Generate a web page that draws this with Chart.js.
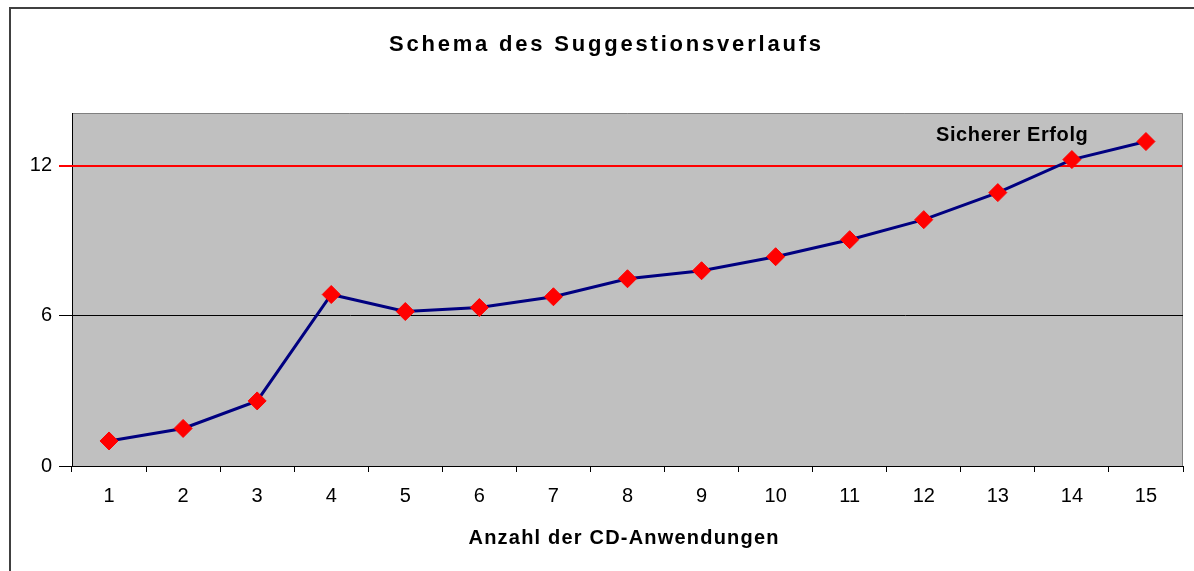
<!DOCTYPE html>
<html>
<head>
<meta charset="utf-8">
<script src="https://cdn.jsdelivr.net/npm/chart.js@4"></script>
<style>
    html, body { margin: 0; padding: 0; background: #fff; }
    #wrap { width: 1194px; height: 571px; position: relative; }
</style>
</head>
<body>
<div id="wrap"><canvas id="suggestionChart"></canvas></div>
<script>
// Chart data
const categories = ['1', '2', '3', '4', '5', '6', '7', '8', '9', '10', '11', '12', '13', '14', '15'];
const suggestionValues = [1.0, 1.5, 2.6, 6.85, 6.17, 6.33, 6.76, 7.48, 7.8, 8.36, 9.04, 9.84, 10.92, 12.24, 12.96];
const yTicks = [0, 6, 12];
const successLevel = 12;
const chartTitle = 'Schema des Suggestionsverlaufs';
const xTitle = 'Anzahl der CD-Anwendungen';
const successLabel = 'Sicherer Erfolg';

const FONT = '"Liberation Sans", Arial, sans-serif';

// helper: spaced text (old Excel rendering is wider)
function drawText(ctx, text, x, y, font, spacing) {
    ctx.save();
    ctx.font = font;
    ctx.letterSpacing = spacing + 'px';
    ctx.fillStyle = '#000';
    ctx.textAlign = 'center';
    ctx.textBaseline = 'middle';
    ctx.fillText(text, x + spacing / 2, y);
    ctx.restore();
}

// Gray plot area + frame around the whole chart
const backgroundPlugin = {
    id: 'plotBackground',
    beforeDraw(chart) {
        const { ctx, chartArea: a } = chart;
        ctx.save();
        ctx.fillStyle = '#ffffff';
        ctx.fillRect(0, 0, chart.width, chart.height);
        // outer frame
        ctx.strokeStyle = '#404040';
        ctx.lineWidth = 2;
        ctx.strokeRect(10, 8, chart.width + 20, chart.height + 20);
        // plot area
        ctx.fillStyle = '#c0c0c0';
        ctx.fillRect(a.left, a.top, a.right - a.left, a.bottom - a.top);
        ctx.strokeStyle = '#808080';
        ctx.lineWidth = 1;
        ctx.beginPath();
        ctx.moveTo(a.left, a.top + 0.5);
        ctx.lineTo(a.right - 0.5, a.top + 0.5);
        ctx.lineTo(a.right - 0.5, a.bottom);
        ctx.stroke();
        ctx.restore();
    }
};

// red line for the success level, under the data line
const successLinePlugin = {
    id: 'successLine',
    beforeDatasetsDraw(chart) {
        const { ctx, scales, chartArea: a } = chart;
        const y = Math.round(scales.y.getPixelForValue(successLevel));
        ctx.save();
        ctx.strokeStyle = '#ff0000';
        ctx.lineWidth = 2;
        ctx.beginPath();
        ctx.moveTo(a.left - 13, y);
        ctx.lineTo(a.right - 1, y);
        ctx.stroke();
        ctx.restore();
    }
};

// titles and the "Sicherer Erfolg" label
const textPlugin = {
    id: 'chartTexts',
    afterDraw(chart) {
        const { ctx, scales, chartArea: a } = chart;
        drawText(ctx, chartTitle, chart.width / 2 + 8, 45, 'bold 22px ' + FONT, 2.8);
        drawText(ctx, xTitle, (a.left + a.right) / 2 - 4, 538, 'bold 20px ' + FONT, 1.2);
        const x = scales.x.getPixelForValue(12.19);
        const y = scales.y.getPixelForValue(13.2);
        drawText(ctx, successLabel, x, y, 'bold 20px ' + FONT, 0.6);
    }
};

const successIndex = yTicks.indexOf(successLevel);

const ctx = document.getElementById('suggestionChart');
new Chart(ctx, {
    type: 'line',
    data: {
        labels: categories,
        datasets: [{
            data: suggestionValues,
            borderColor: '#000080',
            borderWidth: 3,
            tension: 0,
            pointStyle: 'rectRot',
            pointRadius: 9,
            pointHoverRadius: 9,
            pointBackgroundColor: '#ff0000',
            pointBorderColor: '#ff0000',
            pointBorderWidth: 1
        }]
    },
    options: {
        responsive: true,
        maintainAspectRatio: false,
        animation: false,
        layout: { padding: { top: 113, right: 11, bottom: 0, left: 0 } },
        plugins: {
            legend: { display: false },
            tooltip: { enabled: false },
            title: { display: false }
        },
        scales: {
            x: {
                offset: true,
                grid: {
                    offset: true,
                    drawOnChartArea: false,
                    drawTicks: true,
                    tickLength: 6,
                    color: '#000'
                },
                border: { color: '#000', width: 1 },
                ticks: {
                    color: '#000',
                    font: { family: FONT, size: 20 },
                    padding: 12,
                    maxRotation: 0
                },
                afterFit(scale) { scale.height = 105; }
            },
            y: {
                min: 0,
                max: 14.1,
                afterBuildTicks(scale) {
                    scale.ticks = yTicks.map(v => ({ value: v }));
                },
                grid: {
                    drawTicks: true,
                    tickLength: 13,
                    color: c => (c.index === successIndex ? 'rgba(0,0,0,0)' : '#000')
                },
                border: { color: '#000', width: 1 },
                ticks: {
                    color: '#000',
                    font: { family: FONT, size: 20 },
                    padding: 7
                },
                afterFit(scale) { scale.width = 72; }
            }
        }
    },
    plugins: [backgroundPlugin, successLinePlugin, textPlugin]
});
</script>
</body>
</html>
